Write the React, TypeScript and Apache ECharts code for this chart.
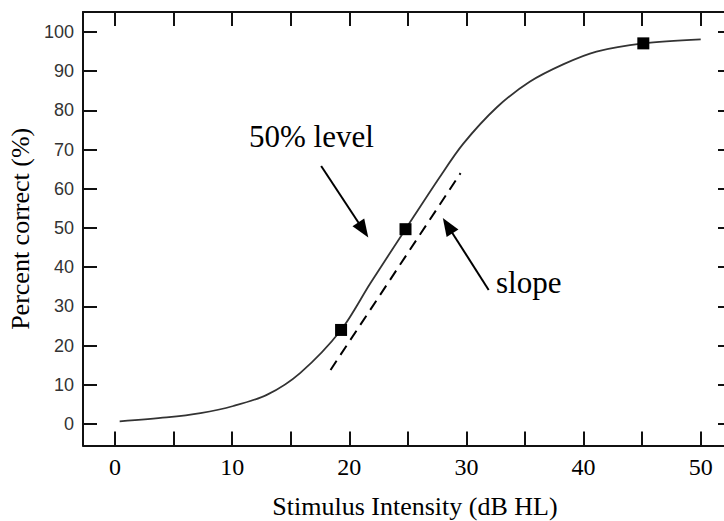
import React, { useEffect, useRef } from "react";
import * as echarts from "echarts";

// Psychometric function
const curveX = [0.4, 4.4, 7.3, 10.1, 13.0, 15.8, 19.3, 21.8, 24.8, 27.7, 29.7, 32.6, 35.4, 38.3, 41.1, 45.1, 50.0];
const curveY = [0.7, 1.7, 2.8, 4.6, 7.5, 13.0, 24.0, 35.9, 49.7, 62.9, 71.4, 80.8, 87.3, 91.8, 95.0, 97.1, 98.1];

// Measured points (squares)
const pointX = [19.3, 24.8, 45.1];
const pointY = [24.0, 49.7, 97.1];

// Slope (dashed tangent)
const slopeX = [18.4, 29.5];
const slopeY = [13.8, 64.0];

// Annotation arrows: [tailX, tailY, headX, headY]
const arrow50 = [17.6, 65.8, 21.2, 49.5];
const arrowSlope = [31.9, 34.2, 28.4, 50.6];

// Ticks
const xTicks = [0, 5, 10, 15, 20, 25, 30, 35, 40, 45, 50];
const xLabels = [0, 10, 20, 30, 40, 50];
const yTicks = [0, 10, 20, 30, 40, 50, 60, 70, 80, 90, 100];

const SERIF = "'Liberation Serif', 'Times New Roman', serif";
const SANS = "'Liberation Sans', Arial, sans-serif";

export default function App() {
  const ref = useRef<HTMLDivElement>(null);
  useEffect(() => {
    if (!ref.current) return;
    const chart = echarts.init(ref.current, undefined, { renderer: "svg" });
    const X_MIN = -2.73;
    const X_MAX = 52.67;
    const Y_MIN = -5.5;
    const Y_MAX = 105.1;
    const axisLineStyle = { color: "#111", width: 2 };
    const baseX = {
      type: "value" as const,
      min: X_MIN,
      max: X_MAX,
      splitLine: { show: false },
      axisLine: { show: true, onZero: false, lineStyle: axisLineStyle },
    };
    const baseY = {
      type: "value" as const,
      min: Y_MIN,
      max: Y_MAX,
      splitLine: { show: false },
      axisLine: { show: true, onZero: false, lineStyle: axisLineStyle },
    };
    chart.setOption({
      animation: false,
      backgroundColor: "#fff",
      grid: { left: 83, top: 12, width: 649, height: 433.6, containLabel: false, outerBoundsMode: "none" },
      xAxis: [
        {
          ...baseX,
          position: "bottom",
          name: "Stimulus Intensity (dB HL)",
          nameLocation: "middle",
          nameGap: 48,
          nameTextStyle: { fontFamily: SERIF, fontSize: 26, color: "#000", padding: [0, 0, 0, 15] },
          axisTick: { show: true, inside: true, length: 14, lineStyle: { color: "#111", width: 2 }, customValues: xTicks },
          axisLabel: { show: true, customValues: xLabels, fontFamily: SERIF, fontSize: 24, color: "#000", margin: 9 },
        },
        {
          ...baseX,
          position: "top",
          axisTick: { show: true, inside: true, length: 14, lineStyle: { color: "#111", width: 2 }, customValues: xTicks },
          axisLabel: { show: false },
        },
      ],
      yAxis: [
        {
          ...baseY,
          position: "left",
          name: "Percent correct (%)",
          nameLocation: "middle",
          nameGap: 48,
          nameRotate: 90,
          nameTextStyle: { fontFamily: SERIF, fontSize: 26, color: "#000" },
          axisTick: { show: true, inside: true, length: 14, lineStyle: { color: "#111", width: 2 }, customValues: yTicks },
          axisLabel: { show: true, customValues: yTicks, fontFamily: SANS, fontSize: 18, color: "#333", margin: 9 },
        },
        {
          ...baseY,
          position: "right",
          axisTick: { show: true, inside: true, length: 14, lineStyle: { color: "#111", width: 2 }, customValues: yTicks },
          axisLabel: { show: false },
        },
      ],
      graphic: [
        {
          type: "text",
          left: 249,
          top: 121,
          style: { text: "50% level", font: `31px ${SERIF}`, fill: "#000" },
        },
        {
          type: "text",
          left: 496,
          top: 267,
          style: { text: "slope", font: `31px ${SERIF}`, fill: "#000" },
        },
      ],
      series: [
        {
          type: "line",
          name: "curve",
          data: curveX.map((x, i) => [x, curveY[i]]),
          smooth: 0.3,
          showSymbol: false,
          lineStyle: { color: "#333", width: 1.8 },
          z: 2,
        },
        {
          type: "line",
          name: "slope",
          data: slopeX.map((x, i) => [x, slopeY[i]]),
          showSymbol: false,
          lineStyle: { color: "#000", width: 2, type: [11, 7] },
          z: 2,
          markLine: {
            silent: true,
            symbol: ["none", "triangle"],
            symbolSize: [14, 18],
            label: { show: false },
            lineStyle: { color: "#000", width: 2, type: "solid", opacity: 1 },
            data: [
              [{ coord: [arrow50[0], arrow50[1]] }, { coord: [arrow50[2], arrow50[3]] }],
              [{ coord: [arrowSlope[0], arrowSlope[1]] }, { coord: [arrowSlope[2], arrowSlope[3]] }],
            ],
          },
        },
        {
          type: "scatter",
          name: "points",
          data: pointX.map((x, i) => [x, pointY[i]]),
          symbol: "rect",
          symbolSize: 12,
          itemStyle: { color: "#000", opacity: 1 },
          z: 3,
        },
      ],
    });
    return () => chart.dispose();
  }, []);
  return (
    <div
      ref={ref}
      style={{ position: "fixed", left: 0, top: 0, width: 724, height: 521, background: "#fff" }}
    />
  );
}
